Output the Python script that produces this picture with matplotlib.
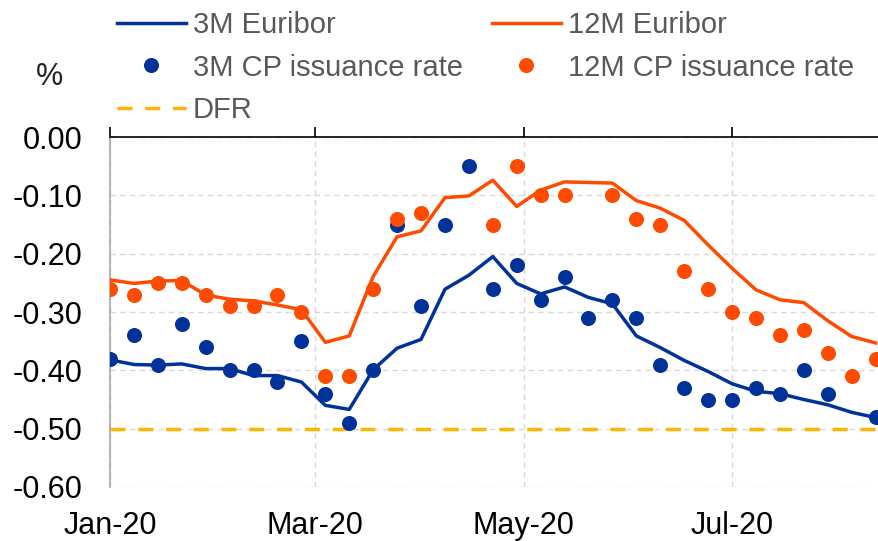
import numpy as np
import pandas as pd
import matplotlib
matplotlib.use("Agg")
import matplotlib.pyplot as plt
import matplotlib.dates as mdates

plt.rcParams['font.family'] = ['Liberation Sans', 'DejaVu Sans']

dates = pd.date_range("2020-01-01", periods=33, freq="7D")

euribor_3m = [-0.382, -0.390, -0.391, -0.389, -0.397, -0.397, -0.409, -0.409, -0.420, -0.460,
              -0.467, -0.399, -0.362, -0.347, -0.261, -0.237, -0.205, -0.251, -0.269, -0.257,
              -0.275, -0.286, -0.341, -0.361, -0.383, -0.402, -0.423, -0.436, -0.440, -0.450,
              -0.459, -0.472, -0.481]
euribor_12m = [-0.245, -0.251, -0.247, -0.246, -0.271, -0.278, -0.281, -0.288, -0.296, -0.352,
               -0.341, -0.239, -0.171, -0.161, -0.104, -0.101, -0.074, -0.119, -0.091, -0.077,
               -0.078, -0.079, -0.109, -0.122, -0.143, -0.185, -0.225, -0.262, -0.279, -0.284,
               -0.315, -0.342, -0.353]
cp_3m = [-0.38, -0.34, -0.39, -0.32, -0.36, -0.40, -0.40, -0.42, -0.35, -0.44,
         -0.49, -0.40, -0.15, -0.29, -0.15, -0.05, -0.26, -0.22, -0.28, -0.24,
         -0.31, -0.28, -0.31, -0.39, -0.43, -0.45, -0.45, -0.43, -0.44, -0.40,
         -0.44, np.nan, -0.48]
cp_12m = [-0.26, -0.27, -0.25, -0.25, -0.27, -0.29, -0.29, -0.27, -0.30, -0.41,
          -0.41, -0.26, -0.14, -0.13, np.nan, np.nan, -0.15, -0.05, -0.10, -0.10,
          np.nan, -0.10, -0.14, -0.15, -0.23, -0.26, -0.30, -0.31, -0.34, -0.33,
          -0.37, -0.41, -0.38]
dfr = [-0.50] * 33

BLUE = "#003299"
ORANGE = "#FF4B00"
YELLOW = "#FFB400"

W, H = 879, 541
fig = plt.figure(figsize=(W / 100, H / 100), dpi=100)
ax = fig.add_axes([110 / W, (H - 487) / H, (W - 110) / W, 350 / H])

start = pd.Timestamp("2020-01-01")
ax.set_xlim(start, start + pd.Timedelta(days=225))
ax.set_ylim(-0.6, 0.0)

LW = 2.5
l_dfr, = ax.plot(dates, dfr, color=YELLOW, lw=LW, dashes=(4.3, 3.7), zorder=3)
l3, = ax.plot(dates, euribor_3m, color=BLUE, lw=LW, zorder=4)
l12, = ax.plot(dates, euribor_12m, color=ORANGE, lw=LW, zorder=4)
p3, = ax.plot(dates, cp_3m, 'o', color=BLUE, ms=9.8, zorder=5, linestyle='none')
p12, = ax.plot(dates, cp_12m, 'o', color=ORANGE, ms=9.8, zorder=6, linestyle='none')

ax.set_yticks(np.arange(-0.6, 0.001, 0.1))
ax.yaxis.set_major_formatter(matplotlib.ticker.FuncFormatter(lambda v, p: f"{v:.2f}" if abs(v) > 1e-9 else "0.00"))
ax.xaxis.set_major_locator(mdates.MonthLocator(bymonth=[1, 3, 5, 7]))
ax.xaxis.set_major_formatter(mdates.DateFormatter("%b-%y"))

ax.grid(True, color="#d9d9d9", lw=1, linestyle=(0, (4, 3)), zorder=0)
ax.set_axisbelow(True)

for s in ["right", "bottom"]:
    ax.spines[s].set_visible(False)
ax.spines["left"].set_color("#a6a6a6")
ax.spines["left"].set_linewidth(1.2)
ax.spines["top"].set_color("black")
ax.spines["top"].set_linewidth(1.2)
ax.spines["top"].set_zorder(7)

ax.tick_params(axis='x', which='major', top=True, bottom=False, labeltop=False,
               labelbottom=True, direction='out', length=7, width=1.2, color='black',
               labelsize=22, pad=10.5)
ax.tick_params(axis='y', length=0, pad=20, labelsize=22)

fig.text(50 / W, 1 - 77 / H, "%", fontsize=22, ha='center', va='center', color='#222222')

leg = fig.legend([l3, p3, l_dfr, l12, p12],
                 ["3M Euribor", "3M CP issuance rate", "DFR", "12M Euribor", "12M CP issuance rate"],
                 ncol=2, loc='upper left', bbox_to_anchor=(117 / W, 1 - 11 / H),
                 frameon=False, fontsize=21, handlelength=2.35, handletextpad=0.25,
                 columnspacing=1.0, labelspacing=0.5, borderpad=0, borderaxespad=0,
                 markerscale=1.0)
for t in leg.get_texts():
    t.set_color("#595959")

fig.savefig("out.png", dpi=100)
